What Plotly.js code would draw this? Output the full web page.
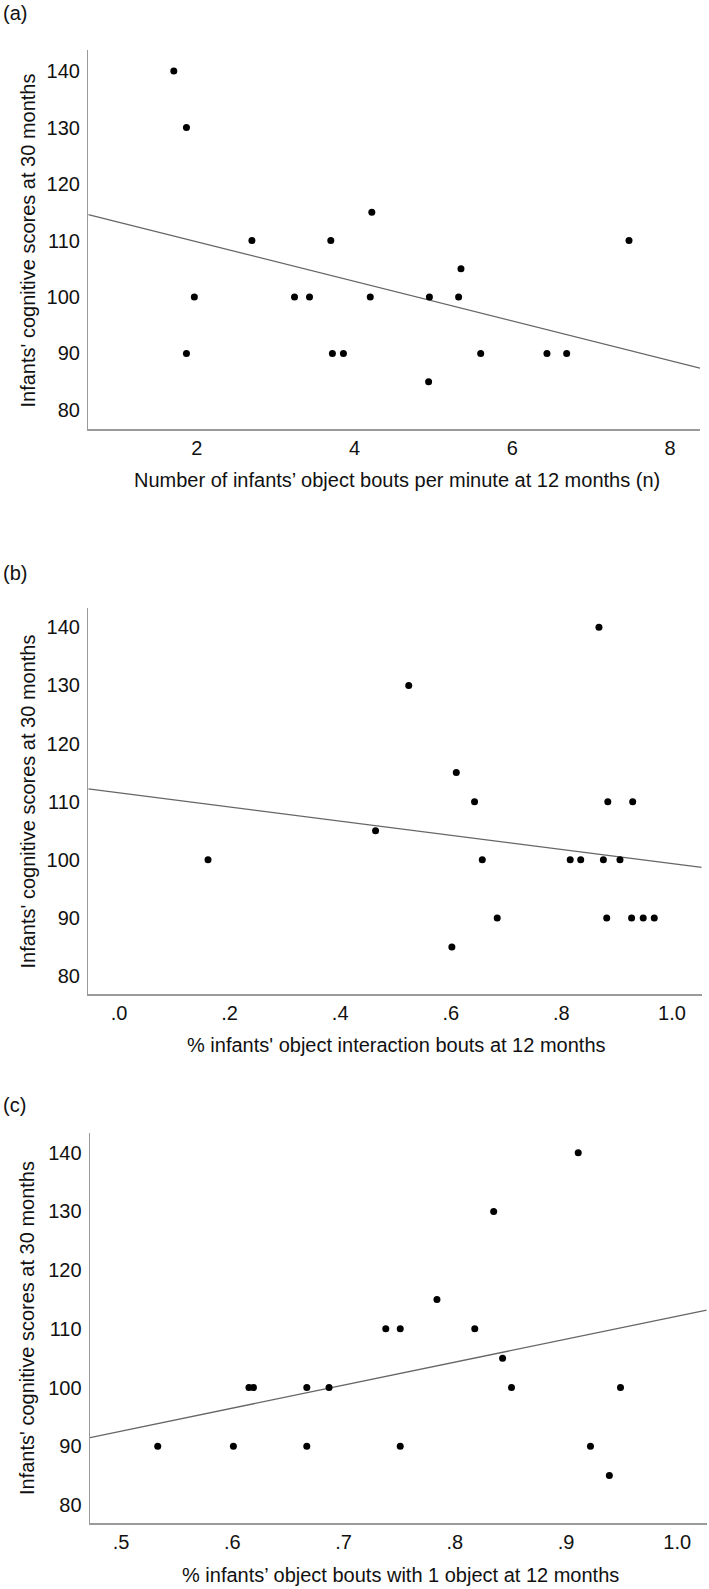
<!DOCTYPE html>
<html>
<head>
<meta charset="utf-8">
<script src="https://cdn.plot.ly/plotly-3.0.1.min.js"></script>
<style>
  html, body { margin: 0; padding: 0; background: #fff; }
  #chart { width: 709px; height: 1589px; }
</style>
</head>
<body>
<div id="chart"></div>
<script>
// Panel (a): object bouts per minute vs. cognitive score
const boutsPerMin = [1.71, 1.87, 1.97, 2.70, 3.24, 3.43, 3.70, 4.22, 4.20, 4.95, 5.32, 5.35, 7.48,
                     1.87, 3.72, 3.86, 4.94, 5.60, 6.44, 6.69];
const scoresA     = [140, 130, 100, 110, 100, 100, 110, 115, 100, 100, 100, 105, 110,
                     90, 90, 90, 85, 90, 90, 90];
const fitAx = [0.626, 8.38];
const fitAy = [114.6, 87.4];

// Panel (b): proportion of object interaction bouts vs. cognitive score
const interactionPct = [0.868, 0.524, 0.610, 0.643, 0.884, 0.929, 0.464,
                        0.161, 0.657, 0.816, 0.835, 0.876, 0.906,
                        0.684, 0.882, 0.927, 0.948, 0.968, 0.602];
const scoresB        = [140, 130, 115, 110, 110, 110, 105,
                        100, 100, 100, 100, 100, 100,
                        90, 90, 90, 90, 90, 85];
const fitBx = [-0.0555, 1.0538];
const fitBy = [112.2, 98.7];

// Panel (c): proportion of bouts with a single object vs. cognitive score
const oneObjectPct = [0.911, 0.835, 0.784, 0.738, 0.751, 0.818, 0.843,
                      0.615, 0.619, 0.667, 0.687, 0.851, 0.949,
                      0.533, 0.601, 0.667, 0.751, 0.922, 0.939];
const scoresC      = [140, 130, 115, 110, 110, 110, 105,
                      100, 100, 100, 100, 100, 100,
                      90, 90, 90, 90, 90, 85];
const fitCx = [0.4721, 1.0265];
const fitCy = [91.47, 113.2];

// Axis ticks and labels
const yTicks = [80, 90, 100, 110, 120, 130, 140];
const xTicksA = [2, 4, 6, 8];
const xTicksB = [0, 0.2, 0.4, 0.6, 0.8, 1.0];
const xTickTextB = ['.0', '.2', '.4', '.6', '.8', '1.0'];
const xTicksC = [0.5, 0.6, 0.7, 0.8, 0.9, 1.0];
const xTickTextC = ['.5', '.6', '.7', '.8', '.9', '1.0'];

const yTitle = "Infants' cognitive scores at 30 months";
const xTitleA = "Number of infants\u2019 object bouts per minute at 12 months (n)";
const xTitleB = "% infants' object interaction bouts at 12 months";
const xTitleC = "% infants\u2019 object bouts with 1 object at 12 months";
const panelLetters = ['(a)', '(b)', '(c)'];

const FONT = '"Liberation Sans", Arial, Helvetica, sans-serif';
const W = 709, H = 1589;
const px = v => v / W;
const py = v => 1 - v / H;

const dot = { color: '#000', size: 7, symbol: 'circle' };
const fitLine = { color: '#666', width: 1.3 };

function scatter(x, y, xa, ya) {
  return { x, y, xaxis: xa, yaxis: ya, type: 'scatter', mode: 'markers',
           marker: dot, hoverinfo: 'skip', showlegend: false, cliponaxis: false };
}
function fit(x, y, xa, ya) {
  return { x, y, xaxis: xa, yaxis: ya, type: 'scatter', mode: 'lines',
           line: fitLine, hoverinfo: 'skip', showlegend: false };
}

const data = [
  fit(fitAx, fitAy, 'x', 'y'),
  scatter(boutsPerMin, scoresA, 'x', 'y'),
  fit(fitBx, fitBy, 'x2', 'y2'),
  scatter(interactionPct, scoresB, 'x2', 'y2'),
  fit(fitCx, fitCy, 'x3', 'y3'),
  scatter(oneObjectPct, scoresC, 'x3', 'y3')
];

function xAxis(domain, range, tickvals, ticktext, anchor) {
  const ax = {
    domain, range, anchor, tickmode: 'array', tickvals,
    showgrid: false, zeroline: false, showline: true,
    linecolor: '#9a9a9a', linewidth: 1.4, ticks: '',
    ticklabelstandoff: 0,
    tickfont: { family: FONT, size: 20, color: '#111' }
  };
  if (ticktext) ax.ticktext = ticktext;
  return ax;
}
function yAxis(domain, range, anchor) {
  return {
    domain, range, anchor, tickmode: 'array', tickvals: yTicks,
    showgrid: false, zeroline: false, showline: true,
    linecolor: '#9a9a9a', linewidth: 1.4, ticks: '',
    ticklabelstandoff: 3,
    tickfont: { family: FONT, size: 20, color: '#111' }
  };
}

function note(text, x, y, opts) {
  return Object.assign({
    text, x, y, xref: 'paper', yref: 'paper', showarrow: false,
    xanchor: 'center', yanchor: 'middle',
    font: { family: FONT, size: 20, color: '#111' }
  }, opts || {});
}

const layout = {
  width: W, height: H,
  margin: { l: 0, r: 0, t: 0, b: 0 },
  paper_bgcolor: '#fff', plot_bgcolor: '#fff',
  showlegend: false,
  xaxis:  xAxis([px(88.3), px(700)],   [0.626, 8.38],     xTicksA, null,       'y'),
  yaxis:  yAxis([py(429.3), py(50)],   [76.58, 143.72],   'x'),
  xaxis2: xAxis([px(88.3), px(701.7)], [-0.0555, 1.0538], xTicksB, xTickTextB, 'y2'),
  yaxis2: yAxis([py(994.3), py(608.3)], [76.85, 143.27],  'x2'),
  xaxis3: xAxis([px(90), px(706.7)],   [0.4721, 1.0265],  xTicksC, xTickTextC, 'y3'),
  yaxis3: yAxis([py(1523.3), py(1133.3)], [76.88, 143.3], 'x3'),
  annotations: [
    note(panelLetters[0], px(1), py(13),   { xanchor: 'left' }),
    note(panelLetters[1], px(1), py(573),  { xanchor: 'left' }),
    note(panelLetters[2], px(1), py(1105), { xanchor: 'left' }),
    note(yTitle, px(27), py(240.5),  { textangle: -90 }),
    note(yTitle, px(27), py(801.5),  { textangle: -90 }),
    note(yTitle, px(27), py(1328),   { textangle: -90 }),
    note(xTitleA, px(396.5), py(480)),
    note(xTitleB, px(396.6), py(1045)),
    note(xTitleC, px(400),   py(1575))
  ]
};

Plotly.newPlot('chart', data, layout, { staticPlot: true, displayModeBar: false });
</script>
</body>
</html>
